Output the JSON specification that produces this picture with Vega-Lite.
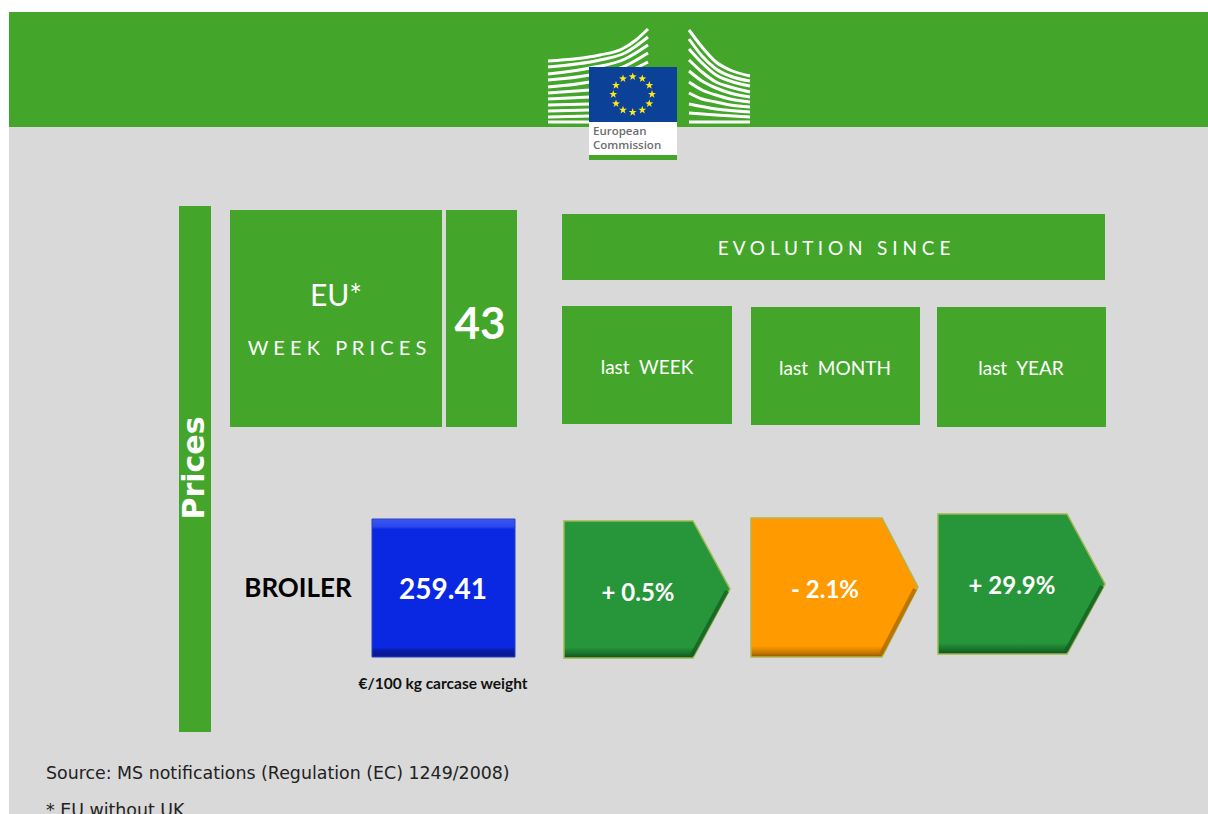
{
"$schema":"https://vega.github.io/schema/vega-lite/v6.json",
"width":1208,"height":814,"padding":0,"autosize":{"type":"none"},
"background":"#ffffff",
"view":{"stroke":null},
"config":{"legend":{"disable":true}},
"datasets":{
"boxes":[
{"part":"page","x":9,"x2":1208,"y":127,"y2":814},
{"part":"banner","x":9,"x2":1208,"y":12,"y2":127},
{"part":"panel","x":179,"x2":211,"y":206,"y2":732},
{"part":"panel","x":230,"x2":442,"y":210,"y2":427},
{"part":"panel","x":446,"x2":517,"y":210,"y2":427},
{"part":"panel","x":562,"x2":1105,"y":214,"y2":280},
{"part":"panel","x":562,"x2":732,"y":306,"y2":424},
{"part":"panel","x":751,"x2":920,"y":307,"y2":425},
{"part":"panel","x":937,"x2":1106,"y":307,"y2":427}
],
"logo":[
{"part":"card","x":589,"x2":677,"y":122,"y2":155},
{"part":"flag","x":589,"x2":677,"y":67,"y2":122},
{"part":"strip","x":589,"x2":677,"y":155,"y2":160}
],
"price":[{"x":372,"x2":515,"y":519,"y2":657}],
"rises":[
{"arrow":"week","x":564,"y":521,"y2":658},{"arrow":"week","x":693,"y":521,"y2":658},{"arrow":"week","x":730,"y":589,"y2":589},
{"arrow":"year","x":938,"y":514,"y2":654},{"arrow":"year","x":1067,"y":514,"y2":654},{"arrow":"year","x":1105,"y":584,"y2":584}
],
"falls":[
{"arrow":"month","x":751,"y":518,"y2":657},{"arrow":"month","x":882,"y":518,"y2":657},{"arrow":"month","x":918,"y":587,"y2":587}
],
"riseEdge":[
{"arrow":"week","x":692,"y":655},{"arrow":"week","x":727,"y":591},
{"arrow":"year","x":1066,"y":651},{"arrow":"year","x":1102,"y":586}
],
"fallEdge":[
{"arrow":"month","x":881,"y":654},{"arrow":"month","x":915,"y":589}
],
"wings":[
{"s":"l1","x":548,"y":61},{"s":"l1","x":600,"y":55},{"s":"l1","x":622,"y":49},{"s":"l1","x":636,"y":40},{"s":"l1","x":648,"y":29},
{"s":"l2","x":548,"y":67},{"s":"l2","x":600,"y":60},{"s":"l2","x":625,"y":53},{"s":"l2","x":648,"y":37},
{"s":"l3","x":548,"y":74},{"s":"l3","x":590,"y":68},{"s":"l3","x":625,"y":59},{"s":"l3","x":648,"y":45},
{"s":"l4","x":548,"y":80},{"s":"l4","x":590,"y":75},{"s":"l4","x":625,"y":66},{"s":"l4","x":648,"y":53},
{"s":"l5","x":548,"y":87},{"s":"l5","x":590,"y":82},{"s":"l5","x":625,"y":73},{"s":"l5","x":648,"y":62},
{"s":"l6","x":548,"y":93},{"s":"l6","x":590,"y":90},
{"s":"l7","x":548,"y":99},{"s":"l7","x":590,"y":97},
{"s":"l8","x":548,"y":105},{"s":"l8","x":590,"y":104},
{"s":"l9","x":548,"y":111},{"s":"l9","x":590,"y":110},
{"s":"l10","x":548,"y":117},{"s":"l10","x":590,"y":116},
{"s":"l11","x":548,"y":122},{"s":"l11","x":590,"y":122},
{"s":"r1","x":689,"y":30},{"s":"r1","x":702,"y":47},{"s":"r1","x":716,"y":62},{"s":"r1","x":730,"y":70},{"s":"r1","x":750,"y":76},
{"s":"r2","x":689,"y":39},{"s":"r2","x":702,"y":56},{"s":"r2","x":716,"y":69},{"s":"r2","x":730,"y":76},{"s":"r2","x":750,"y":81},
{"s":"r3","x":689,"y":49},{"s":"r3","x":702,"y":63},{"s":"r3","x":716,"y":75},{"s":"r3","x":730,"y":81},{"s":"r3","x":750,"y":86},
{"s":"r4","x":689,"y":60},{"s":"r4","x":702,"y":72},{"s":"r4","x":716,"y":82},{"s":"r4","x":730,"y":87},{"s":"r4","x":750,"y":92},
{"s":"r5","x":689,"y":71},{"s":"r5","x":702,"y":81},{"s":"r5","x":716,"y":88},{"s":"r5","x":730,"y":93},{"s":"r5","x":750,"y":97},
{"s":"r6","x":689,"y":82},{"s":"r6","x":702,"y":90},{"s":"r6","x":716,"y":95},{"s":"r6","x":730,"y":99},{"s":"r6","x":750,"y":102},
{"s":"r7","x":689,"y":93},{"s":"r7","x":702,"y":99},{"s":"r7","x":716,"y":102},{"s":"r7","x":730,"y":105},{"s":"r7","x":750,"y":107},
{"s":"r8","x":689,"y":104},{"s":"r8","x":716,"y":109},{"s":"r8","x":750,"y":112},
{"s":"r9","x":689,"y":113},{"s":"r9","x":716,"y":115},{"s":"r9","x":750,"y":117},
{"s":"r10","x":689,"y":122},{"s":"r10","x":750,"y":122}
],
"stars":[
{"x":632.7,"y":76.7},{"x":642.3,"y":78.7},{"x":649.3,"y":85.3},{"x":652,"y":94.3},{"x":649.3,"y":103.7},{"x":642.3,"y":110},
{"x":632.7,"y":112.3},{"x":623,"y":110},{"x":616,"y":103.7},{"x":613.3,"y":94.3},{"x":616,"y":85.3},{"x":623,"y":78.7}
],
"labels":[
{"style":"side","text":"Prices","x":195,"y":468},
{"style":"head","text":"EU*","x":336,"y":297},
{"style":"week2","text":"W E E K \u00a0 P R I C E S","x":337,"y":349},
{"style":"week","text":"43","x":480,"y":326},
{"style":"spaced","text":"E V O L U T I O N \u00a0 S I N C E","x":834,"y":249},
{"style":"tab","text":"last \u00a0WEEK","x":647,"y":368},
{"style":"tab","text":"last \u00a0MONTH","x":835,"y":369},
{"style":"tab","text":"last \u00a0YEAR","x":1021,"y":369},
{"style":"product","text":"BROILER","x":298,"y":589},
{"style":"value","text":"259.41","x":443,"y":591},
{"style":"change","text":"+ 0.5%","x":638,"y":594},
{"style":"change","text":"- 2.1%","x":825,"y":591},
{"style":"change","text":"+ 29.9%","x":1012,"y":587},
{"style":"unit","text":"€/100 kg carcase weight","x":443,"y":684}
],
"notes":[
{"text":"Source: MS notifications (Regulation (EC) 1249/2008)","x":46,"y":774},
{"text":"* EU without UK","x":46,"y":811}
],
"brand":[
{"text":"European","x":593,"y":132},
{"text":"Commission","x":593,"y":146}
]
},
"encoding":{
"x":{"field":"x","type":"quantitative","axis":null,"scale":{"domain":[0,1208],"nice":false,"zero":false}},
"y":{"field":"y","type":"quantitative","axis":null,"scale":{"domain":[814,0],"nice":false,"zero":false}}
},
"layer":[
{"data":{"name":"boxes"},"mark":{"type":"rect"},
 "encoding":{"x2":{"field":"x2"},"y2":{"field":"y2"},
 "color":{"field":"part","type":"nominal","legend":null,"scale":{"domain":["page","banner","panel","card","flag","strip"],"range":["#d9d9d9","#43a62b","#43a62b","#ffffff","#0b4197","#43a62b"]}}}},
{"data":{"name":"wings"},"mark":{"type":"line","color":"#ffffff","strokeWidth":3,"interpolate":"monotone"},
 "encoding":{"detail":{"field":"s"}}},
{"data":{"name":"logo"},"mark":{"type":"rect"},
 "encoding":{"x2":{"field":"x2"},"y2":{"field":"y2"},
 "color":{"field":"part","type":"nominal","legend":null,"scale":{"domain":["page","banner","panel","card","flag","strip"],"range":["#d9d9d9","#43a62b","#43a62b","#ffffff","#0b4197","#43a62b"]}}}},
{"data":{"name":"stars"},"mark":{"type":"point","filled":true,"opacity":1,"color":"#ffe81a","size":70,"shape":"M0,-1L0.235,-0.324L0.951,-0.309L0.38,0.124L0.588,0.809L0,0.4L-0.588,0.809L-0.38,0.124L-0.951,-0.309L-0.235,-0.324Z"}},
{"data":{"name":"brand"},"mark":{"type":"text","align":"left","baseline":"middle","font":"Open Sans","fontSize":11.5,"fontWeight":600,"color":"#6d6e71"},"encoding":{"text":{"field":"text"}}},
{"data":{"name":"price"},"mark":{"type":"rect","stroke":"#2a40c0","strokeWidth":1,"color":{"gradient":"linear","x1":0,"y1":0,"x2":0,"y2":1,"stops":[{"offset":0,"color":"#3c58f0"},{"offset":0.055,"color":"#2a48ec"},{"offset":0.075,"color":"#0a28e2"},{"offset":0.93,"color":"#0a28e2"},{"offset":0.95,"color":"#081ea8"},{"offset":1,"color":"#061690"}]}},
 "encoding":{"x2":{"field":"x2"},"y2":{"field":"y2"}}},
{"data":{"name":"rises"},"mark":{"type":"area","stroke":"#9db84f","strokeWidth":1.5,"color":{"gradient":"linear","x1":0,"y1":0,"x2":0,"y2":1,"stops":[{"offset":0,"color":"#27963a"},{"offset":0.92,"color":"#27963a"},{"offset":0.97,"color":"#17702a"},{"offset":1,"color":"#0e4f1c"}]}},
 "encoding":{"y2":{"field":"y2"},"detail":{"field":"arrow"}}},
{"data":{"name":"falls"},"mark":{"type":"area","stroke":"#b5b54a","strokeWidth":1.5,"color":{"gradient":"linear","x1":0,"y1":0,"x2":0,"y2":1,"stops":[{"offset":0,"color":"#ff9a00"},{"offset":0.92,"color":"#ff9a00"},{"offset":0.97,"color":"#c87800"},{"offset":1,"color":"#8f5600"}]}},
 "encoding":{"y2":{"field":"y2"},"detail":{"field":"arrow"}}},
{"data":{"name":"riseEdge"},"mark":{"type":"line","color":"#125c22","strokeWidth":4,"opacity":0.75},"encoding":{"detail":{"field":"arrow"}}},
{"data":{"name":"fallEdge"},"mark":{"type":"line","color":"#a86800","strokeWidth":4,"opacity":0.75},"encoding":{"detail":{"field":"arrow"}}},
{"data":{"name":"labels"},"transform":[{"filter":"datum.style==='side'"}],"mark":{"type":"text","angle":270,"font":"DejaVu Sans","fontWeight":"bold","fontSize":30,"color":"#ffffff","align":"center","baseline":"middle"},"encoding":{"text":{"field":"text"}}},
{"data":{"name":"labels"},"transform":[{"filter":"datum.style==='head'"}],"mark":{"type":"text","font":"Lato","fontSize":30,"color":"#ffffff","align":"center","baseline":"middle"},"encoding":{"text":{"field":"text"}}},
{"data":{"name":"labels"},"transform":[{"filter":"datum.style==='tab'"}],"mark":{"type":"text","font":"Lato","fontSize":19,"color":"#ffffff","align":"center","baseline":"middle"},"encoding":{"text":{"field":"text"}}},
{"data":{"name":"labels"},"transform":[{"filter":"datum.style==='spaced'"}],"mark":{"type":"text","font":"Lato","fontSize":19,"color":"#ffffff","align":"center","baseline":"middle"},"encoding":{"text":{"field":"text"}}},
{"data":{"name":"labels"},"transform":[{"filter":"datum.style==='week2'"}],"mark":{"type":"text","font":"Lato","fontSize":20,"color":"#ffffff","align":"center","baseline":"middle"},"encoding":{"text":{"field":"text"}}},
{"data":{"name":"labels"},"transform":[{"filter":"datum.style==='week'"}],"mark":{"type":"text","font":"Lato","fontWeight":"bold","fontSize":44,"color":"#ffffff","align":"center","baseline":"middle"},"encoding":{"text":{"field":"text"}}},
{"data":{"name":"labels"},"transform":[{"filter":"datum.style==='product'"}],"mark":{"type":"text","font":"Lato","fontWeight":"bold","fontSize":26,"color":"#000000","align":"center","baseline":"middle"},"encoding":{"text":{"field":"text"}}},
{"data":{"name":"labels"},"transform":[{"filter":"datum.style==='value'"}],"mark":{"type":"text","font":"Lato","fontWeight":"bold","fontSize":28,"color":"#ffffff","align":"center","baseline":"middle"},"encoding":{"text":{"field":"text"}}},
{"data":{"name":"labels"},"transform":[{"filter":"datum.style==='change'"}],"mark":{"type":"text","font":"Lato","fontWeight":"bold","fontSize":24,"color":"#ffffff","align":"center","baseline":"middle"},"encoding":{"text":{"field":"text"}}},
{"data":{"name":"labels"},"transform":[{"filter":"datum.style==='unit'"}],"mark":{"type":"text","font":"Lato","fontWeight":"bold","fontSize":15.5,"color":"#111111","align":"center","baseline":"middle"},"encoding":{"text":{"field":"text"}}},
{"data":{"name":"notes"},"mark":{"type":"text","font":"DejaVu Sans","fontSize":17.4,"color":"#222222","align":"left","baseline":"middle"},"encoding":{"text":{"field":"text"}}}
]
}
